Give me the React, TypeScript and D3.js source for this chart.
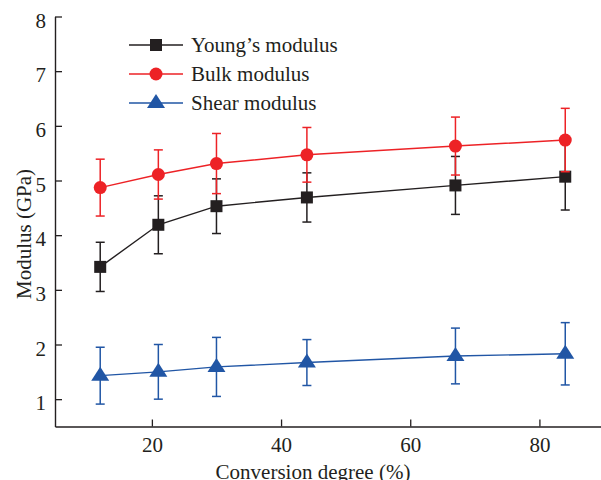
import React, { useEffect, useRef } from 'react';
import * as d3 from 'd3';

// conversion degree (%) on x
const conversion = [12, 21, 30, 44, 67, 84];

// moduli in GPa, with error bar half widths
const young = [3.42, 4.19, 4.53, 4.69, 4.91, 5.07];
const youngErr = [0.45, 0.53, 0.5, 0.45, 0.53, 0.61];
const bulk = [4.87, 5.11, 5.31, 5.47, 5.63, 5.74];
const bulkErr = [0.52, 0.45, 0.55, 0.5, 0.53, 0.58];
const shear = [1.43, 1.5, 1.59, 1.67, 1.79, 1.83];
const shearErr = [0.52, 0.5, 0.54, 0.42, 0.51, 0.57];

const xTicks = [20, 40, 60, 80];
const yTicks = [1, 2, 3, 4, 5, 6, 7, 8];
const seriesNames = ["Young\u2019s modulus", "Bulk modulus", "Shear modulus"];

const W = 601;
const H = 480;
const FONT = '"Liberation Serif", "Times New Roman", serif';

export default function App() {
  const ref = useRef<SVGSVGElement>(null);

  useEffect(() => {
    const svg = d3.select(ref.current);
    svg.selectAll('*').remove();

    const x = d3.scaleLinear().domain([5, 90]).range([55, 604]);
    const y = d3.scaleLinear().domain([0.5, 8]).range([426.5, 16.5]);

    const axisColor = '#231f20';

    const gx = svg.append('g').attr('transform', 'translate(0,426.5)')
      .call(d3.axisBottom(x).tickValues(xTicks).tickSize(-7).tickSizeOuter(0).tickPadding(11));
    const gy = svg.append('g').attr('transform', 'translate(55,0)')
      .call(d3.axisLeft(y).tickValues(yTicks).tickSize(-7).tickSizeOuter(0).tickPadding(9));

    [gx, gy].forEach(g => {
      g.select('.domain').attr('stroke', axisColor).attr('stroke-width', 1.4);
      g.selectAll('.tick line').attr('stroke', axisColor).attr('stroke-width', 1.3);
      g.selectAll('.tick text')
        .attr('fill', axisColor)
        .style('font-family', FONT)
        .style('font-size', '21px');
    });
    gy.selectAll('.tick text').attr('dy', '0.5em');

    svg.append('text')
      .attr('x', 313).attr('y', 479)
      .attr('text-anchor', 'middle')
      .attr('fill', axisColor)
      .style('font-family', FONT).style('font-size', '21px')
      .text('Conversion degree (%)');

    svg.append('text')
      .attr('transform', 'translate(31,234) rotate(-90)')
      .attr('text-anchor', 'middle')
      .attr('fill', axisColor)
      .style('font-family', FONT).style('font-size', '21px')
      .text('Modulus (GPa)');

    const series = [
      { vals: young, errs: young.map((_, i) => youngErr[i]), color: '#231f20', shape: 'square' },
      { vals: bulk, errs: bulkErr, color: '#ed2226', shape: 'circle' },
      { vals: shear, errs: shearErr, color: '#2156a5', shape: 'triangle' },
    ];

    const drawMarker = (g: any, cx: number, cy: number, shape: string, color: string) => {
      if (shape === 'square') {
        g.append('rect').attr('x', cx - 6).attr('y', cy - 6).attr('width', 12).attr('height', 12).attr('fill', color);
      } else if (shape === 'circle') {
        g.append('circle').attr('cx', cx).attr('cy', cy).attr('r', 6.5).attr('fill', color);
      } else {
        g.append('path')
          .attr('d', `M${cx},${cy - 9}L${cx + 9},${cy + 5}L${cx - 9},${cy + 5}Z`)
          .attr('fill', color);
      }
    };

    const line = d3.line<number>()
      .x((_, i) => x(conversion[i]))
      .y(d => y(d));

    series.forEach(s => {
      const g = svg.append('g');
      // error bars
      s.vals.forEach((v, i) => {
        const cx = x(conversion[i]);
        const top = y(v + s.errs[i]);
        const bot = y(v - s.errs[i]);
        g.append('line').attr('x1', cx).attr('x2', cx).attr('y1', top).attr('y2', bot)
          .attr('stroke', s.color).attr('stroke-width', 1.5);
        [top, bot].forEach(yy => {
          g.append('line').attr('x1', cx - 4.5).attr('x2', cx + 4.5).attr('y1', yy).attr('y2', yy)
            .attr('stroke', s.color).attr('stroke-width', 1.5);
        });
      });
      g.append('path').datum(s.vals)
        .attr('fill', 'none')
        .attr('stroke', s.color)
        .attr('stroke-width', 1.4)
        .attr('d', line);
      s.vals.forEach((v, i) => drawMarker(g, x(conversion[i]), y(v), s.shape, s.color));
    });

    // legend
    const legendY = [45, 74, 103];
    series.forEach((s, i) => {
      const g = svg.append('g');
      g.append('line').attr('x1', 129).attr('x2', 183).attr('y1', legendY[i]).attr('y2', legendY[i])
        .attr('stroke', s.color).attr('stroke-width', 1.4);
      drawMarker(g, 156, legendY[i], s.shape, s.color);
      g.append('text')
        .attr('x', 191).attr('y', legendY[i] + 7)
        .attr('fill', axisColor)
        .style('font-family', FONT).style('font-size', '21px')
        .text(seriesNames[i]);
    });
  }, []);

  return (
    <svg ref={ref} width={W} height={H}
      style={{ position: 'absolute', left: 0, top: 0, background: '#fff' }} />
  );
}
